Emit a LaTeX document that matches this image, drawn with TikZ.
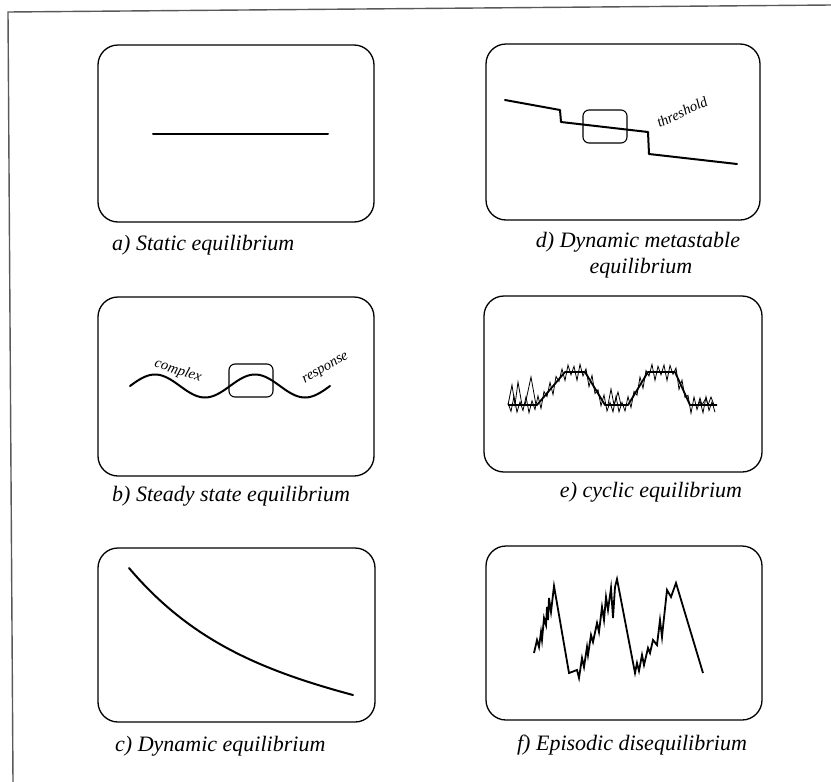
\documentclass[tikz,border=0pt]{standalone}
\usepackage{fontspec}
\setmainfont{Liberation Serif}
\begin{document}
\begin{tikzpicture}[x=1pt,y=-1pt,
  panel/.style={draw, line width=1.3pt, rounded corners=20pt},
  mini/.style={draw, line width=1.1pt, rounded corners=6pt},
  curve/.style={line width=2pt, line join=round, line cap=round},
  thin noise/.style={line width=0.8pt, line join=miter},
  caption/.style={font=\fontsize{22}{26}\selectfont\itshape, inner sep=0pt},
  small/.style={font=\fontsize{14.5}{16}\selectfont\itshape, inner sep=0pt},
  declare function={cl(\u)=min(1,max(0,\u));
    B(\x)=405-33*(cl((\x-537)/28)-cl((\x-585)/20)+cl((\x-628)/20)-cl((\x-675)/15));}]
\useasboundingbox (0,0) rectangle (831,782);
\fill[white] (0,0) rectangle (831,782);
% outer frame
\draw[black!65, line width=1.4pt] (831,5) -- (8,12) -- (13,782);

% panel boxes
\draw[panel] (98,45) rectangle (374,222);
\draw[panel] (98,297) rectangle (374,476);
\draw[panel] (98,548) rectangle (375,722);
\draw[panel] (486,44) rectangle (760,220);
\draw[panel] (484,296) rectangle (762,472);
\draw[panel] (486,546) rectangle (762,720);

% a) static
\draw[curve] (153,134) -- (328,134);

% b) steady state
\draw[curve] plot[domain=130:330, samples=81, smooth] (\x, {386-11.5*sin(3.6*(\x-130))});
\draw[mini] (229,364) rectangle (273,397);
\node[small, rotate=-18] (complex) at (178,371) {complex};
\node[small, rotate=30] (response) at (326,369) {response};

% c) dynamic
\draw[curve] (129,568) .. controls (190,640) and (260,670) .. (353,695);

% d) dynamic metastable
\draw[curve] (505,100) -- (560,110) -- (561,122) -- (648,132) -- (649,154) -- (737,164);
\draw[mini] (583,110) rectangle (627,143);
\node[small, rotate=25] (thr) at (682,112) {threshold};

% e) cyclic
\draw[line width=1.8pt, line join=round] (508,405) -- (537,405) -- (565,372) -- (585,372) -- (605,405) -- (628,405) -- (648,372) -- (675,372) -- (690,405) -- (717,405);
\draw[thin noise] (508,405) -- (512,385) -- (515,405) -- (518,382) -- (522,405) -- (525,405) -- (531,377) -- (536,405);
\draw[thin noise] (608,405) -- (611,389) -- (614,405) -- (618,392) -- (621,405);
\draw[thin noise] (698,405) -- (700,398) -- (702,405) -- (706,398) -- (708,405) -- (711,397) -- (714,405);
\draw[thin noise] plot[variable=\t, domain=0:69, samples=70]
  ({508+3*\t}, {B(508+3*\t) + (2*mod(round(\t),2)-1)*(2+6.5*abs(sin(\t*137.5)))});

% f) episodic
\draw[line width=1.8pt, line join=miter] (534,653) -- (537,640) -- (539,647) -- (541,632) -- (542,640) -- (544,618) -- (546,625) -- (547,607) -- (548,620) -- (549,598) -- (551,612) -- (554,586) -- (569,673) -- (577,670) -- (579,678) -- (582,658) -- (584,667) -- (587,647) -- (588,655) -- (591,635) -- (593,642) -- (597,623) -- (599,632) -- (602,607) -- (604,620) -- (606,597) -- (608,610) -- (611,588) -- (613,618) -- (615,587) -- (617,579) -- (635,673) -- (637,663) -- (639,671) -- (642,655) -- (644,665) -- (648,648) -- (650,653) -- (653,640) -- (657,645) -- (660,620) -- (662,637) -- (663,627) -- (667,590) -- (671,597) -- (676,583) -- (703,673);

% captions
\node[caption, anchor=base west] (capa) at (112,250) {a) Static equilibrium};
\node[caption, anchor=base west] (capb) at (112,501) {b) Steady state equilibrium};
\node[caption, anchor=base west] (capc) at (115,751) {c) Dynamic equilibrium};
\node[caption, anchor=base] (capd1) at (638,247) {d) Dynamic metastable};
\node[caption, anchor=base] (capd2) at (641,273) {equilibrium};
\node[caption, anchor=base] (cape) at (651,497) {e) cyclic equilibrium};
\node[caption, anchor=base] (capf) at (632,750) {f) Episodic disequilibrium};
\end{tikzpicture}
\end{document}
